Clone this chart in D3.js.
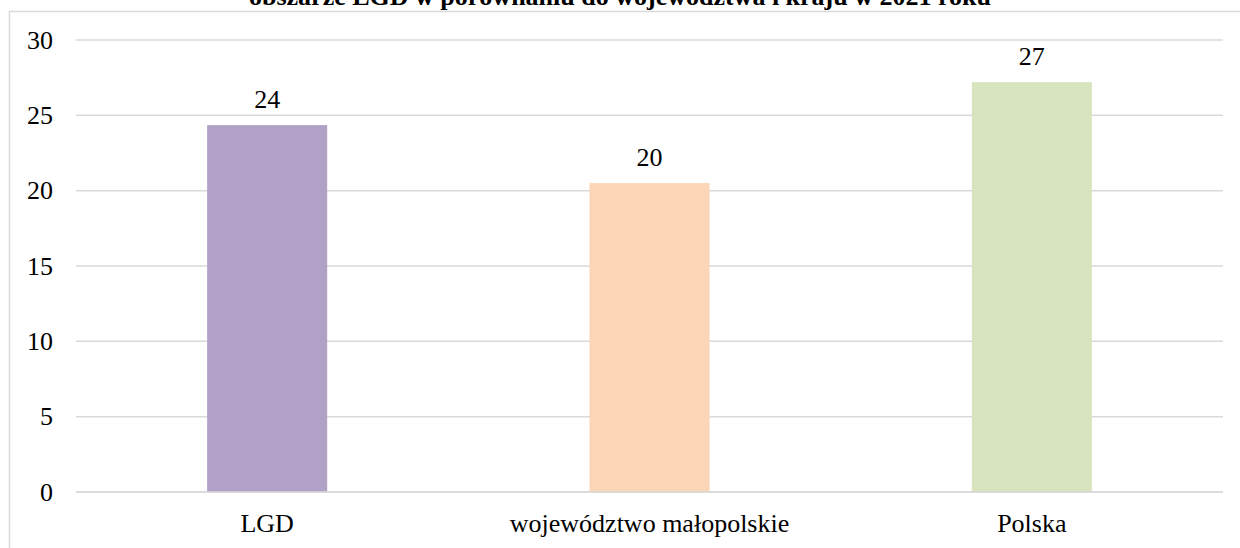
<!DOCTYPE html>
<html>
<head>
<meta charset="utf-8">
<script src="https://cdn.jsdelivr.net/npm/d3@7"></script>
<style>
  body { margin: 0; background: #fff; }
  svg { display: block; }
</style>
</head>
<body>
<div id="chart"></div>
<script>
var categories = ["LGD", "województwo małopolskie", "Polska"];
var values = [24.35, 20.5, 27.2];
var valueLabels = ["24", "20", "27"];
var barColors = ["#b2a1c7", "#fbd5b5", "#d7e4bd"];
var yTicks = [0, 5, 10, 15, 20, 25, 30];
var title = "obszarze LGD w porównaniu do województwa i kraju w 2021 roku";

var width = 1240, height = 548;
var margin = { top: 40, right: 17, bottom: 56, left: 76 };
var serif = "Liberation Serif";

var svg = d3.select("#chart")
    .append("svg")
    .attr("width", width)
    .attr("height", height)
    .style("font-family", serif);

// chart frame (runs past the right and bottom edges)
svg.append("rect")
    .attr("x", 9.5)
    .attr("y", 11.5)
    .attr("width", 1300)
    .attr("height", 600)
    .attr("fill", "none")
    .attr("stroke", "#d9d9d9")
    .attr("stroke-width", 1.5);

// title, cut off at top like the source
svg.append("text")
    .attr("x", 620)
    .attr("y", 5)
    .attr("text-anchor", "middle")
    .style("font-family", serif)
    .style("font-size", "26px")
    .style("font-weight", "bold")
    .text(title);

var x = d3.scaleBand()
    .domain(categories)
    .range([margin.left, width - margin.right])
    .paddingInner(0.686)
    .paddingOuter(0.343);

var y = d3.scaleLinear()
    .domain([0, 30])
    .range([height - margin.bottom, margin.top]);

// gridlines
svg.append("g")
    .selectAll("line")
    .data(yTicks)
    .enter()
    .append("line")
    .attr("x1", margin.left)
    .attr("x2", width - margin.right)
    .attr("y1", function(d) { return y(d); })
    .attr("y2", function(d) { return y(d); })
    .attr("stroke", "#d9d9d9")
    .attr("stroke-width", 1.5);

// y axis labels
var yAxis = svg.append("g")
    .attr("transform", "translate(" + margin.left + ",0)")
    .call(d3.axisLeft(y).tickValues(yTicks).tickSize(0).tickPadding(23));
yAxis.select(".domain").remove();
yAxis.selectAll("text")
    .style("font-family", serif)
    .style("font-size", "26px")
    .attr("fill", "#000");

// bars
svg.selectAll("rect.bar")
    .data(values)
    .enter()
    .append("rect")
    .attr("class", "bar")
    .attr("x", function(d, i) { return x(categories[i]); })
    .attr("y", function(d) { return y(d); })
    .attr("width", x.bandwidth())
    .attr("height", function(d) { return y(0) - y(d); })
    .attr("fill", function(d, i) { return barColors[i]; });

// zero line over the bars
svg.append("line")
    .attr("x1", margin.left)
    .attr("x2", width - margin.right)
    .attr("y1", y(0))
    .attr("y2", y(0))
    .attr("stroke", "#d9d9d9")
    .attr("stroke-width", 1.5);

// value labels
svg.selectAll("text.val")
    .data(values)
    .enter()
    .append("text")
    .attr("class", "val")
    .attr("x", function(d, i) { return x(categories[i]) + x.bandwidth() / 2; })
    .attr("y", function(d) { return y(d) - 17; })
    .attr("text-anchor", "middle")
    .style("font-family", serif)
    .style("font-size", "26px")
    .text(function(d, i) { return valueLabels[i]; });

// x axis labels
var xAxis = svg.append("g")
    .attr("transform", "translate(0," + y(0) + ")")
    .call(d3.axisBottom(x).tickSize(0).tickPadding(22));
xAxis.select(".domain").remove();
xAxis.selectAll("text")
    .style("font-family", serif)
    .style("font-size", "26px")
    .attr("fill", "#000");
</script>
</body>
</html>
